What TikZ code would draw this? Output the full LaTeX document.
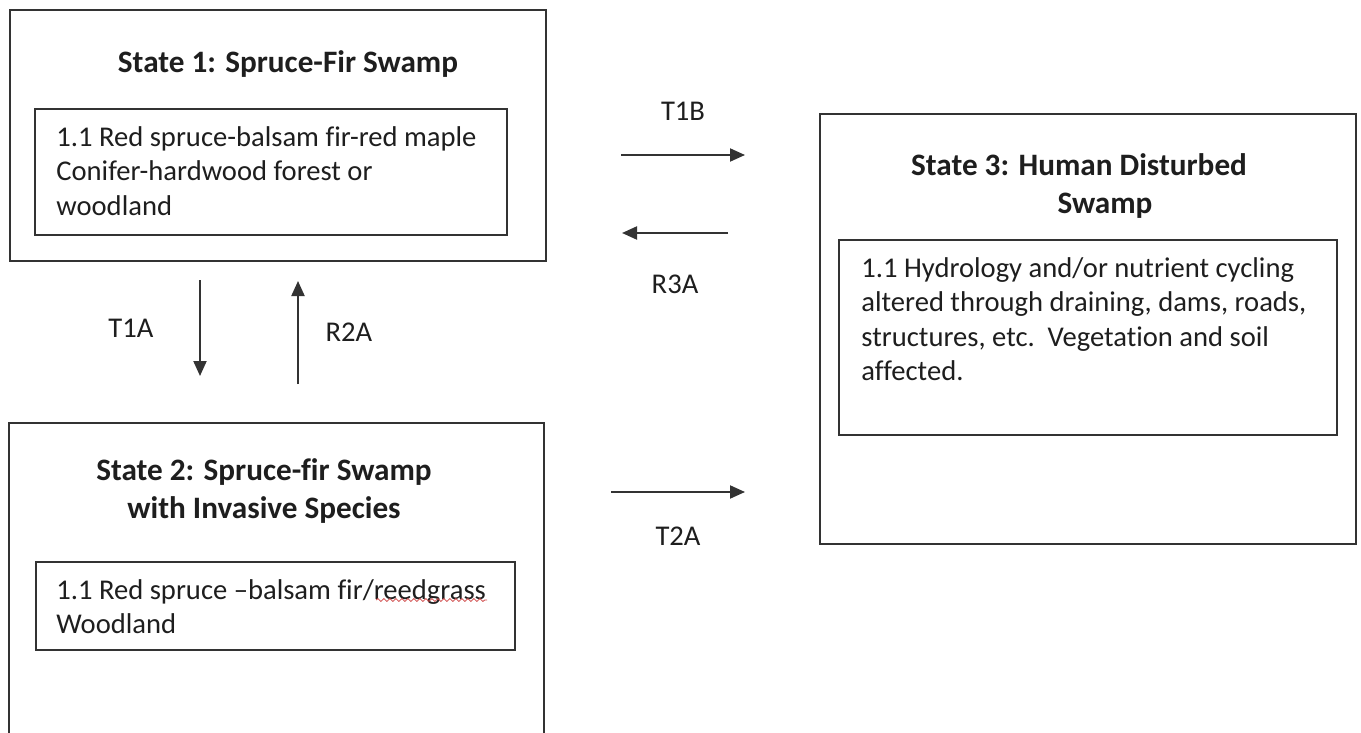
\documentclass[tikz,border=0pt]{standalone}
\usepackage{fontspec}
\setmainfont[Ligatures=NoCommon]{Carlito}
\usetikzlibrary{arrows.meta,positioning,decorations.pathmorphing}

\definecolor{linegray}{HTML}{333333}
\definecolor{textgray}{HTML}{1E1E1E}
\definecolor{spellred}{HTML}{D04848}

\begin{document}
\begin{tikzpicture}[x=0.5pt,y=-0.5pt,
    statebox/.style={rectangle,draw=linegray,line width=1pt},
    subbox/.style={rectangle,draw=linegray,line width=1pt},
    title/.style={font=\fontsize{15.6}{18.7}\selectfont\bfseries,align=center,text=textgray,inner sep=0},
    body/.style={font=\fontsize{14.3}{17.2}\selectfont,align=left,anchor=north west,inner sep=0,text=textgray},
    flow/.style={draw=linegray,line width=1pt,-{Triangle[length=7.5pt,width=6.5pt]}},
    tag/.style={font=\fontsize{14.3}{17}\selectfont,text=textgray,inner sep=0}]

    \clip (0,0) rectangle (1361,733);
    \fill[white] (0,0) rectangle (1361,733);

    % outer state boxes
    \node[statebox,minimum width=268pt,minimum height=125.5pt] at (278,135.5) (s1) {};
    \node[statebox,minimum width=267.5pt,minimum height=190pt] at (276.5,613) (s2) {};
    \node[statebox,minimum width=268pt,minimum height=215pt] at (1088,329) (s3) {};

    % community boxes
    \node[subbox,minimum width=236pt,minimum height=63pt] at (271,172) (c1) {};
    \node[subbox,minimum width=239.5pt,minimum height=44pt] at (275.5,606) (c2) {};
    \node[subbox,minimum width=249pt,minimum height=97.5pt] at (1088,337.5) (c3) {};

    % titles
    \node[title] at (288,64) (t1) {State 1: Spruce-Fir Swamp};
    \node[title] at (264,491) (t2) {State 2: Spruce-fir Swamp\\with Invasive Species};
    \node[title] at (1079,186) (t3) {State 3: Human Disturbed\\\hspace*{26pt}Swamp};

    % texts
    \node[body] at (56,126) (b1) {1.1 Red spruce-balsam fir-red maple\\Conifer-hardwood forest or\\woodland};
    \node[body] at (56,579) (b2) {1.1 Red spruce --balsam fir/reedgrass\\Woodland};
    \node[body] at (861,257) (b3) {1.1 Hydrology and/or nutrient cycling\\altered through draining, dams, roads,\\structures, etc.\ \ Vegetation and soil\\affected.};
    \draw[spellred,line width=0.4pt,decorate,decoration={snake,segment length=3pt,amplitude=0.7pt}]
        (376,600) -- (487,600);

    % transitions
    \coordinate (t1b-s) at (621,155);
    \coordinate (t1b-e) at (745,155);
    \coordinate (r3a-s) at (728,233);
    \coordinate (r3a-e) at (622,233);
    \coordinate (t1a-s) at (200,280);
    \coordinate (t1a-e) at (200,376);
    \coordinate (r2a-s) at (298,384);
    \coordinate (r2a-e) at (298,281);
    \coordinate (t2a-s) at (611,492);
    \coordinate (t2a-e) at (745,492);

    \path
        (t1b-s) edge[flow] node[tag,above=16.9pt] {T1B} (t1b-e)
        (r3a-s) edge[flow] node[tag,below=20.4pt] {R3A} (r3a-e)
        (t1a-s) edge[flow] node[tag,left=22.8pt] {T1A} (t1a-e)
        (r2a-s) edge[flow] node[tag,right=13.3pt] {R2A} (r2a-e)
        (t2a-s) edge[flow] node[tag,below=16.9pt] {T2A} (t2a-e)
        ;
\end{tikzpicture}
\end{document}
